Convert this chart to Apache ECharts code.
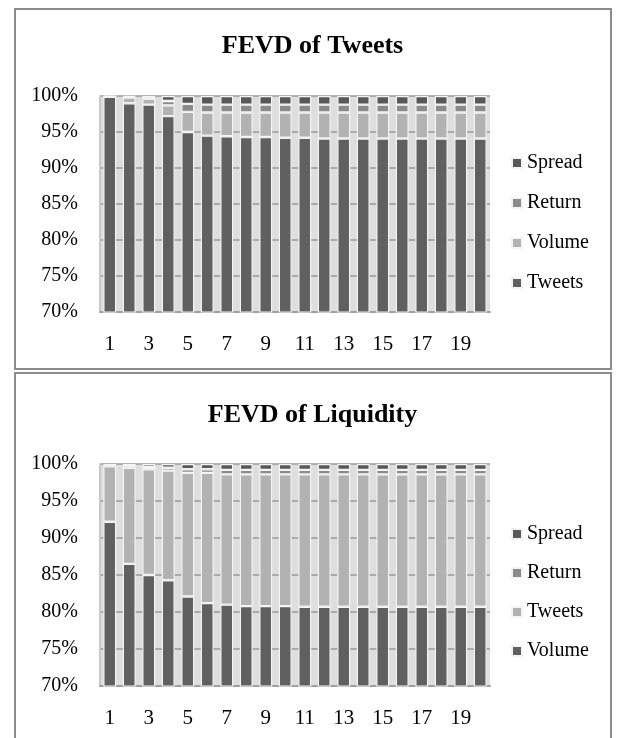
<!DOCTYPE html>
<html><head><meta charset="utf-8">
<script src="https://cdn.jsdelivr.net/npm/echarts@6/dist/echarts.min.js"></script>
<style>html,body{margin:0;padding:0;background:#fff}#c{width:625px;height:738px}</style>
</head><body><div id="c"></div>
<script>
var categories = ['1','2','3','4','5','6','7','8','9','10','11','12','13','14','15','16','17','18','19','20'];
var yTicks = ['70%','75%','80%','85%','90%','95%','100%'];
// FEVD of Tweets
var tweetsT = [99.9, 99.0, 98.8, 97.2, 95.0, 94.5, 94.4, 94.3, 94.3, 94.2, 94.2, 94.1, 94.1, 94.1, 94.1, 94.1, 94.1, 94.1, 94.1, 94.1];
var volumeT = [0.05, 0.8, 0.8, 1.5, 2.8, 3.2, 3.3, 3.4, 3.4, 3.5, 3.5, 3.6, 3.6, 3.6, 3.6, 3.6, 3.6, 3.6, 3.6, 3.6];
var returnT = [0.03, 0.1, 0.2, 0.6, 1.1, 1.1, 1.1, 1.1, 1.1, 1.1, 1.1, 1.1, 1.1, 1.1, 1.1, 1.1, 1.1, 1.1, 1.1, 1.1];
var spreadT = [0.02, 0.1, 0.2, 0.7, 1.1, 1.2, 1.2, 1.2, 1.2, 1.2, 1.2, 1.2, 1.2, 1.2, 1.2, 1.2, 1.2, 1.2, 1.2, 1.2];
// FEVD of Liquidity
var volumeL = [92.2, 86.5, 85.0, 84.3, 82.1, 81.2, 81.0, 80.8, 80.8, 80.8, 80.7, 80.7, 80.7, 80.7, 80.7, 80.7, 80.7, 80.7, 80.7, 80.7];
var tweetsL = [7.5, 13.0, 14.3, 14.8, 16.7, 17.6, 17.6, 17.8, 17.8, 17.8, 17.9, 17.9, 17.9, 17.9, 17.9, 17.9, 17.9, 17.9, 17.9, 17.9];
var returnL = [0.1, 0.2, 0.3, 0.4, 0.5, 0.5, 0.6, 0.6, 0.6, 0.6, 0.6, 0.6, 0.6, 0.6, 0.6, 0.6, 0.6, 0.6, 0.6, 0.6];
var spreadL = [0.2, 0.3, 0.4, 0.5, 0.7, 0.7, 0.8, 0.8, 0.8, 0.8, 0.8, 0.8, 0.8, 0.8, 0.8, 0.8, 0.8, 0.8, 0.8, 0.8];

var serif = 'Liberation Serif';
var cDark = '#606060', cMid = '#8a8a8a', cLight = '#b2b2b2', cSpread = '#585858';

function xAxis(gi){
  return {type:'category', gridIndex:gi, data:categories,
    axisLine:{show:true,lineStyle:{color:'#a0a0a0',width:2}}, axisTick:{show:false},
    axisLabel:{interval:1, fontFamily:serif, fontSize:21, color:'#000', margin:22}};
}
function yAxis(gi){
  return {type:'value', gridIndex:gi, min:70, max:100, interval:5,
    axisLine:{show:true,lineStyle:{color:'#c8c8c8',width:2}}, axisTick:{show:false},
    splitLine:{lineStyle:{color:'#999',width:1.5}},
    axisLabel:{fontFamily:serif, fontSize:20, color:'#000', margin:22,
      formatter:function(v){return yTicks[Math.round((v-70)/5)];}}};
}
function bar(name, data, color, gi, stack){
  return {name:name, type:'bar', stack:stack, xAxisIndex:gi, yAxisIndex:gi, data:data,
    barCategoryGap:'34%', animation:false,
    itemStyle:{color:color, borderColor:'#f4f4f4', borderWidth:1.2}};
}
var legendText = {fontFamily:serif, fontSize:20, color:'#000'};
var option = {
  backgroundColor:'#fff',
  title:[
    {text:'FEVD of Tweets', left:'center', top:28, textStyle:{fontFamily:serif, fontSize:26, fontWeight:'bold', color:'#000'}},
    {text:'FEVD of Liquidity', left:'center', top:397, textStyle:{fontFamily:serif, fontSize:26, fontWeight:'bold', color:'#000'}}
  ],
  legend:[
    {orient:'vertical', left:506, top:148, itemWidth:10, itemHeight:10, itemGap:20, icon:'rect',
      data:['Spread','Return','Volume','Tweets'], textStyle:legendText, selectedMode:false},
    {orient:'vertical', left:506, top:519, itemWidth:10, itemHeight:10, itemGap:19, icon:'rect',
      data:['Spread ','Return ','Tweets ','Volume '], textStyle:legendText, selectedMode:false}
  ],
  grid:[
    {left:100, top:96, width:390, height:216, show:true, backgroundColor:'#dedede', borderWidth:0},
    {left:100, top:464, width:390, height:222, show:true, backgroundColor:'#dedede', borderWidth:0}
  ],
  xAxis:[xAxis(0), xAxis(1)],
  yAxis:[yAxis(0), yAxis(1)],
  series:[
    bar('Tweets', tweetsT, cDark, 0, 'a'),
    bar('Volume', volumeT, cLight, 0, 'a'),
    bar('Return', returnT, cMid, 0, 'a'),
    bar('Spread', spreadT, cSpread, 0, 'a'),
    bar('Volume ', volumeL, cDark, 1, 'b'),
    bar('Tweets ', tweetsL, cLight, 1, 'b'),
    bar('Return ', returnL, cMid, 1, 'b'),
    bar('Spread ', spreadL, cSpread, 1, 'b')
  ],
  graphic:[
    {type:'rect', shape:{x:15, y:9, width:596, height:360}, style:{fill:'none', stroke:'#8c8c8c', lineWidth:2}},
    {type:'rect', shape:{x:15, y:373, width:596, height:380}, style:{fill:'none', stroke:'#8c8c8c', lineWidth:2}}
  ]
};
var chart = echarts.init(document.getElementById('c'));
chart.setOption(option);
</script></body></html>
